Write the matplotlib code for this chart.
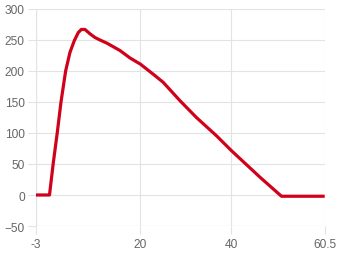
import matplotlib
matplotlib.use("Agg")
import matplotlib.pyplot as plt

x_vals = [-3, 0, 0.84, 1.72, 2.53, 3.55, 4.5, 5.46, 6.33, 7.0, 7.8, 8.9, 10, 11.1, 12.6,
          15.5, 17.7, 20, 23.2, 25, 28.7, 32.3, 36.7, 40, 46.3, 51, 60.5]
y_vals = [0, 0, 52, 101, 150, 200, 230, 249, 262, 267, 267, 260, 254, 250, 245,
          233, 221, 211, 192.5, 181.7, 152, 125, 95.6, 71.5, 28.5, -2, -2]
x_ticks = [-3, 20, 40, 60.5]
x_tick_labels = ["-3", "20", "40", "60.5"]
y_ticks = [-50, 0, 50, 100, 150, 200, 250, 300]

plt.rcParams['font.family'] = ['Liberation Sans', 'DejaVu Sans']

fig = plt.figure(figsize=(3.4, 2.55), dpi=100)
ax = fig.add_axes([0.1054, 0.1098, 0.955 - 0.1054, 0.9608 - 0.1098])

ax.plot(x_vals, y_vals, color='#d0021b', lw=2.3, solid_joinstyle='round', solid_capstyle='butt', zorder=3)

ax.set_xlim(-3, 60.5)
ax.set_ylim(-50, 300)
ax.set_xticks(x_ticks)
ax.set_xticklabels(x_tick_labels)
ax.set_yticks(y_ticks)

for s in ax.spines.values():
    s.set_visible(False)
ax.grid(True, color='#e3e3e3', lw=0.8, zorder=0)
ax.axvline(-3, color='#d0d0d0', lw=0.8, zorder=1)
ax.axhline(-50, color='#d0d0d0', lw=0.8, zorder=1)
ax.tick_params(axis='both', length=5.8, width=0.8, color='#e3e3e3', labelcolor='#666666', labelsize=8.6)
ax.tick_params(axis='y', pad=2.2)
ax.tick_params(axis='x', pad=3)

fig.savefig('out.png', dpi=100)
